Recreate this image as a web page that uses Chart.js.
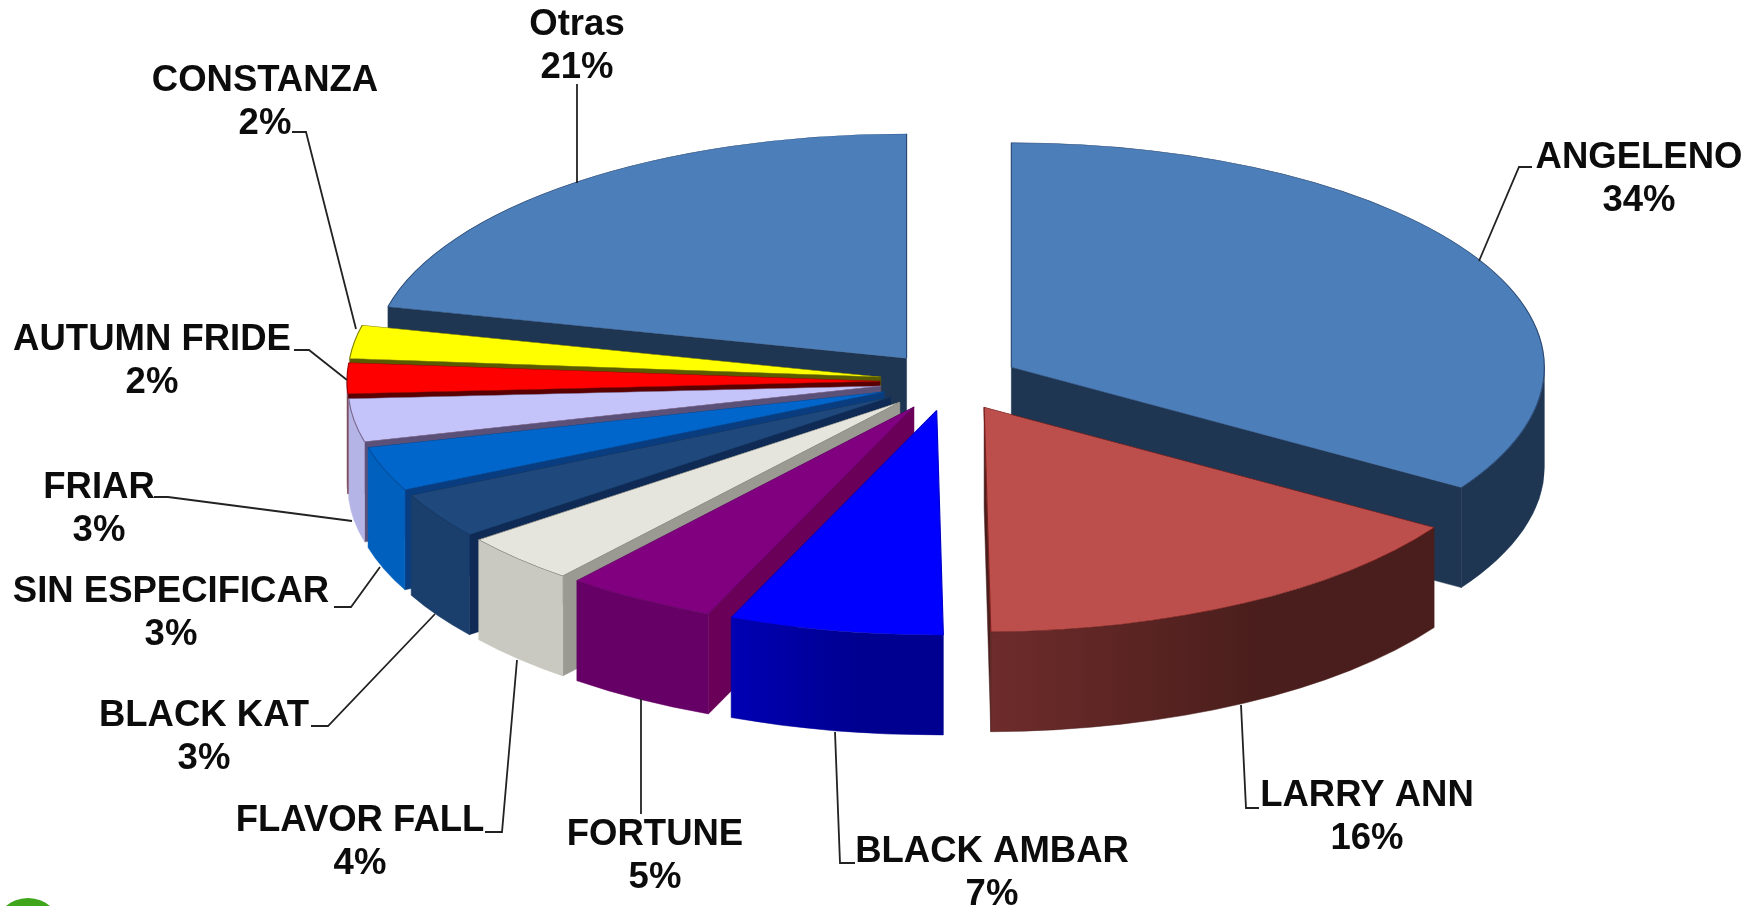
<!DOCTYPE html>
<html>
<head>
<meta charset="utf-8">
<title>Marcas</title>
<script src="https://cdn.jsdelivr.net/npm/chart.js@4/dist/chart.umd.min.js"></script>
<style>
  html, body { margin: 0; padding: 0; background: #fff; }
  canvas { display: block; }
</style>
</head>
<body>
<canvas id="pie" width="1760" height="906"></canvas>
<script>
// Values, clockwise from 12 o'clock.
// Slice widths estimated from the drawn edges, printed labels are these rounded
const categories = ['ANGELENO', 'LARRY ANN', 'BLACK AMBAR', 'FORTUNE', 'FLAVOR FALL', 'BLACK KAT',
  'SIN ESPECIFICAR', 'FRIAR', 'AUTUMN FRIDE', 'CONSTANZA', 'Otras'];
const shares = [34, 15.8, 6.5, 4.6, 3.6, 3.3, 3.2, 3.1, 2.2, 2.4, 21.3];

// Colours
const topColors = ['#4C7EBA', '#BC4F4B', '#0000FF', '#800080', '#E6E5DD', '#1F497D',
  '#0066CC', '#C4C4FA', '#FF0000', '#FFFF00', '#4C7EBA'];
const edgeColors = ['#2A4A75', '#7A1F1C', '#0000C8', '#600060', '#8A8A80', '#17375E',
  '#004C99', '#7A6A90', '#A00000', '#808000', '#2A4A75'];
const sideColors = ['#1F3653', '#4A1E1C', '#000090', '#660066', '#C9C9C1', '#1B3F6C',
  '#0060BE', '#B4B4E6', '#7A4A5A', '#7A7A00', '#1F3653'];
const sideLightColors = ['#1F3653', '#6E2C2B', '#0000B4', '#660066', '#C9C9C1', '#1B3F6C',
  '#0060BE', '#B4B4E6', '#7A4A5A', '#7A7A00', '#1F3653'];
const wallColors = ['#1F3653', '#4A1E1C', '#000090', '#6A0058', '#9A9A92', '#0E2A55',
  '#0A3D80', '#5A5078', '#5A0000', '#5A5A00', '#1F3653'];

// 3D look: where the squashed pie sits on the page
const pieCenter = { x: 950, y: 381.5 };
const pieRadiusX = 533;
const pieRadiusY = 224.5;
const pieDepth = 100;
const explode = 70;

// Label centres and leader lines, page pixels
const labelSpots = [
  { x: 1639, y: 158, line: [[1532, 167], [1519, 167], [1479, 261]] },
  { x: 1367, y: 796, line: [[1259, 808], [1246, 808], [1241, 705]] },
  { x: 992, y: 852, line: [[855, 863], [840, 863], [835, 732]] },
  { x: 655, y: 835, line: [[641, 814], [641, 699]] },
  { x: 360, y: 821, line: [[485, 832], [502, 832], [517, 660]] },
  { x: 204, y: 716, line: [[311, 726], [328, 726], [435, 614]] },
  { x: 171, y: 592, line: [[334, 607], [351, 607], [380, 567]] },
  { x: 99, y: 488, line: [[154, 497], [168, 497], [352, 521]] },
  { x: 152, y: 340, line: [[294, 350], [309, 350], [347, 380]] },
  { x: 265, y: 81, line: [[292, 132], [306, 132], [356, 329]] },
  { x: 577, y: 25, line: [[577, 84], [577, 183]] }
];
const labelLineGap = 43;

const pie3d = {
  id: 'pie3d',
  beforeDatasetsDraw(chart) {
    const ctx = chart.ctx;
    const arcs = chart.getDatasetMeta(0).data;
    const sx = pieRadiusX / arcs[0].outerRadius;
    const sy = pieRadiusY / arcs[0].outerRadius;
    const drop = pieDepth / sy;
    const push = explode / sx;

    // paint back slices first
    const order = arcs.map((a, i) => i).sort((i, j) => midY(arcs[i]) - midY(arcs[j]));

    ctx.save();
    ctx.translate(pieCenter.x, pieCenter.y);
    ctx.scale(sx, sy);
    ctx.translate(-arcs[0].x, -arcs[0].y);

    order.forEach(i => {
      const arc = arcs[i];
      const mid = (arc.startAngle + arc.endAngle) / 2;
      ctx.save();
      ctx.translate(Math.cos(mid) * push, Math.sin(mid) * push);
      drawWalls(ctx, arc, i, drop);
      arc.draw(ctx);
      ctx.restore();
    });
    ctx.restore();

    drawLabels(ctx);
    return false;
  }
};

function midY(arc) {
  return Math.sin((arc.startAngle + arc.endAngle) / 2);
}

function drawWalls(ctx, arc, i, drop) {
  const { x, y, outerRadius: r, startAngle: a0, endAngle: a1 } = arc;
  ctx.lineWidth = 0.6;

  [[a0, Math.cos(a0) < -0.001], [a1, Math.cos(a1) > 0.001]].forEach(([a, visible]) => {
    if (!visible) return;
    ctx.beginPath();
    ctx.moveTo(x, y);
    ctx.lineTo(x + Math.cos(a) * r, y + Math.sin(a) * r);
    ctx.lineTo(x + Math.cos(a) * r, y + Math.sin(a) * r + drop);
    ctx.lineTo(x, y + drop);
    ctx.closePath();
    ctx.fillStyle = wallColors[i];
    ctx.strokeStyle = wallColors[i];
    ctx.fill();
    ctx.stroke();
  });

  // rim only shows on the front half
  const from = Math.max(a0, 0);
  const to = Math.min(a1, Math.PI);
  if (to > from) {
    const xa = x + Math.cos(from) * r;
    const xb = x + Math.cos(to) * r;
    const grad = ctx.createLinearGradient(xb, 0, xa, 0);
    grad.addColorStop(0, sideLightColors[i]);
    grad.addColorStop(0.6, sideColors[i]);
    grad.addColorStop(1, sideColors[i]);
    ctx.beginPath();
    ctx.arc(x, y, r, from, to);
    ctx.arc(x, y + drop, r, to, from, true);
    ctx.closePath();
    ctx.fillStyle = grad;
    ctx.strokeStyle = sideColors[i];
    ctx.fill();
    ctx.stroke();
  }
}

function drawLabels(ctx) {
  ctx.save();
  ctx.strokeStyle = '#222';
  ctx.lineWidth = 1.8;
  labelSpots.forEach(spot => {
    ctx.beginPath();
    spot.line.forEach(([px, py], k) => k ? ctx.lineTo(px, py) : ctx.moveTo(px, py));
    ctx.stroke();
  });

  ctx.fillStyle = '#0c0c0c';
  ctx.font = 'bold 36.5px "Liberation Sans", Arial, sans-serif';
  ctx.textAlign = 'center';
  ctx.textBaseline = 'middle';
  categories.forEach((name, i) => {
    const spot = labelSpots[i];
    ctx.fillText(name, spot.x, spot.y);
    ctx.fillText(Math.round(shares[i]) + '%', spot.x, spot.y + labelLineGap);
  });

  // bit of the green logo cut off at the bottom corner
  ctx.fillStyle = '#3FA51A';
  ctx.beginPath();
  ctx.arc(28, 932, 34, 0, Math.PI * 2);
  ctx.fill();
  ctx.restore();
}

new Chart(document.getElementById('pie').getContext('2d'), {
  type: 'pie',
  data: {
    labels: categories,
    datasets: [{
      data: shares,
      backgroundColor: topColors,
      borderColor: edgeColors,
      borderWidth: 1
    }]
  },
  options: {
    responsive: false,
    animation: false,
    layout: { padding: 0 },
    plugins: {
      legend: { display: false },
      tooltip: { enabled: false }
    }
  },
  plugins: [pie3d]
});
</script>
</body>
</html>
